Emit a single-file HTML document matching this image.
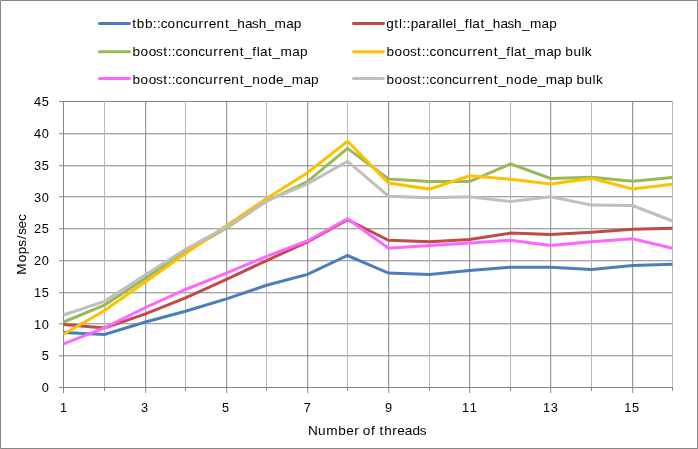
<!DOCTYPE html>
<html><head><meta charset="utf-8"><title>Chart</title>
<style>
html,body{margin:0;padding:0;background:#fff;}
svg{display:block;}
text{font-family:"Liberation Sans",sans-serif;font-size:13px;fill:#000;}
</style></head><body>
<svg width="698" height="449" viewBox="0 0 698 449">
<rect x="0" y="0" width="698" height="449" fill="#fff"/>
<rect x="0.5" y="0.5" width="697" height="448" fill="none" stroke="#868686" stroke-width="1"/>
<rect x="0" y="0" width="1" height="1" fill="#ababab"/><rect x="697" y="0" width="1" height="1" fill="#ababab"/><rect x="0" y="448" width="1" height="1" fill="#959595"/><rect x="697" y="448" width="1" height="1" fill="#959595"/>
<g stroke-width="1" fill="none">
<line x1="59" y1="387.5" x2="673" y2="387.5" stroke="#868686"/>
<line x1="59" y1="355.78" x2="673" y2="355.78" stroke="#868686"/>
<line x1="59" y1="323.78" x2="673" y2="323.78" stroke="#868686"/>
<line x1="59" y1="292.78" x2="673" y2="292.78" stroke="#868686"/>
<line x1="59" y1="260.78" x2="673" y2="260.78" stroke="#868686"/>
<line x1="59" y1="228.78" x2="673" y2="228.78" stroke="#868686"/>
<line x1="59" y1="196.78" x2="673" y2="196.78" stroke="#868686"/>
<line x1="59" y1="165.78" x2="673" y2="165.78" stroke="#868686"/>
<line x1="59" y1="133.78" x2="673" y2="133.78" stroke="#868686"/>
<line x1="59" y1="101.5" x2="673" y2="101.5" stroke="#868686"/>
<line x1="63.5" y1="101" x2="63.5" y2="393" stroke="#868686"/>
<line x1="104.5" y1="101" x2="104.5" y2="387" stroke="#b8b8b8"/>
<line x1="104.5" y1="387" x2="104.5" y2="391" stroke="#868686"/>
<line x1="145.7" y1="101" x2="145.7" y2="393" stroke="#868686"/>
<line x1="185.5" y1="101" x2="185.5" y2="387" stroke="#b8b8b8"/>
<line x1="185.5" y1="387" x2="185.5" y2="391" stroke="#868686"/>
<line x1="226.7" y1="101" x2="226.7" y2="393" stroke="#868686"/>
<line x1="266.5" y1="101" x2="266.5" y2="387" stroke="#b8b8b8"/>
<line x1="266.5" y1="387" x2="266.5" y2="391" stroke="#868686"/>
<line x1="307.7" y1="101" x2="307.7" y2="393" stroke="#868686"/>
<line x1="347.5" y1="101" x2="347.5" y2="387" stroke="#b8b8b8"/>
<line x1="347.5" y1="387" x2="347.5" y2="391" stroke="#868686"/>
<line x1="388.7" y1="101" x2="388.7" y2="393" stroke="#868686"/>
<line x1="429.5" y1="101" x2="429.5" y2="387" stroke="#b8b8b8"/>
<line x1="429.5" y1="387" x2="429.5" y2="391" stroke="#868686"/>
<line x1="469.7" y1="101" x2="469.7" y2="393" stroke="#868686"/>
<line x1="510.5" y1="101" x2="510.5" y2="387" stroke="#b8b8b8"/>
<line x1="510.5" y1="387" x2="510.5" y2="391" stroke="#868686"/>
<line x1="550.7" y1="101" x2="550.7" y2="393" stroke="#868686"/>
<line x1="591.5" y1="101" x2="591.5" y2="387" stroke="#b8b8b8"/>
<line x1="591.5" y1="387" x2="591.5" y2="391" stroke="#868686"/>
<line x1="632.7" y1="101" x2="632.7" y2="393" stroke="#868686"/>
<line x1="672.5" y1="101" x2="672.5" y2="387" stroke="#b8b8b8"/>
<line x1="672.5" y1="387" x2="672.5" y2="391" stroke="#868686"/>
</g>
<g fill="none" stroke-linejoin="miter" stroke-miterlimit="10" stroke-linecap="butt">
<polyline points="63.5,332.6 104.5,334.4 145.5,322.0 185.5,311.2 226.5,298.9 266.5,285.3 307.5,274.4 347.5,255.5 388.5,273.1 429.5,274.45 469.5,270.5 510.5,267.3 550.5,267.3 591.5,269.6 632.5,265.5 672.5,264.3" stroke="#4a7ebb" stroke-width="3.0"/>
<polyline points="63.5,324.6 104.5,328.1 145.5,313.8 185.5,297.9 226.5,279.3 266.5,260.6 307.5,241.8 347.5,219.6 388.5,240.3 429.5,241.7 469.5,239.4 510.5,233.1 550.5,234.4 591.5,232.25 632.5,229.2 672.5,228.3" stroke="#be4b48" stroke-width="3.0"/>
<polyline points="63.5,322.0 104.5,305.1 145.5,278.3 185.5,251.4 226.5,227.9 266.5,201.2 307.5,181.6 347.5,148.3 388.5,178.96 429.5,181.6 469.5,181.6 510.5,163.8 550.5,178.4 591.5,177.2 632.5,181.3 672.5,177.4" stroke="#98b954" stroke-width="3.0"/>
<polyline points="63.5,334.2 104.5,310.6 145.5,281.8 185.5,253.5 226.5,225.6 266.5,198.5 307.5,172.7 347.5,141.3 388.5,183.05 429.5,189.1 469.5,175.75 510.5,179.3 550.5,183.9 591.5,178.4 632.5,188.96 672.5,184.15" stroke="#ffc000" stroke-width="3.0"/>
<polyline points="63.5,343.8 104.5,327.9 145.5,307.5 185.5,289.5 226.5,273.07 266.5,256.3 307.5,241.0 347.5,218.7 388.5,248.2 429.5,245.6 469.5,242.9 510.5,240.3 550.5,245.6 591.5,241.7 632.5,238.8 672.5,248.3" stroke="#ff66ff" stroke-width="3.0"/>
<polyline points="63.5,315.0 104.5,301.3 145.5,274.7 185.5,249.3 226.5,227.0 266.5,201.2 307.5,183.9 347.5,161.2 388.5,196.2 429.5,197.65 469.5,196.76 510.5,201.5 550.5,196.76 591.5,205.1 632.5,205.5 672.5,221.0" stroke="#bfbfbf" stroke-width="3.0"/>
</g>
<text x="41.86" y="391.9" style="font-size:12.8px">0</text>
<text x="41.86" y="359.9" style="font-size:12.8px">5</text>
<text x="34.11 41.86" y="328.9" style="font-size:12.8px">10</text>
<text x="34.11 41.86" y="296.9" style="font-size:12.8px">15</text>
<text x="34.11 41.86" y="264.9" style="font-size:12.8px">20</text>
<text x="34.11 41.86" y="232.9" style="font-size:12.8px">25</text>
<text x="34.11 41.86" y="201.9" style="font-size:12.8px">30</text>
<text x="34.11 41.86" y="170.1" style="font-size:12.8px">35</text>
<text x="34.11 41.86" y="137.9" style="font-size:12.8px">40</text>
<text x="34.11 41.86" y="105.9" style="font-size:12.8px">45</text>
<text x="59.94" y="411.6" style="font-size:12.8px">1</text>
<text x="140.94" y="411.6" style="font-size:12.8px">3</text>
<text x="221.94" y="411.6" style="font-size:12.8px">5</text>
<text x="303.84" y="411.6" style="font-size:12.8px">7</text>
<text x="384.94" y="411.6" style="font-size:12.8px">9</text>
<text x="462.06 469.82" y="411.6" style="font-size:12.8px">11</text>
<text x="543.06 550.82" y="411.6" style="font-size:12.8px">13</text>
<text x="624.26 632.02" y="411.6" style="font-size:12.8px">15</text>
<text x="308.03 318.11 326.36 338.37 346.20 354.19 358.96 362.83 371.09 375.16 379.45 384.14 392.34 397.30 404.77 412.45 419.85" y="434.5" style="font-size:13.6px">Number of threads</text>
<text x="0.88 13.33 21.39 28.78 36.24 40.67 47.09 54.51" y="0" style="font-size:13.6px" transform="translate(26.3,275.5) rotate(-90)">Mops/sec</text>
<line x1="99.5" y1="23.5" x2="129.4" y2="23.5" stroke="#4a7ebb" stroke-width="3" stroke-linecap="round"/>
<text x="132.17 136.86 144.90 152.86 156.95 160.72 167.61 175.67 183.30 190.17 198.38 203.71 208.67 216.49 224.97 229.45 237.28 244.96 252.00 258.63 266.46 274.50 286.15 293.84" y="27.8" style="font-size:13.6px">tbb::concurrent_hash_map</text>
<line x1="99.5" y1="51.8" x2="129.4" y2="51.8" stroke="#98b954" stroke-width="3" stroke-linecap="round"/>
<text x="132.54 140.59 148.66 156.07 163.13 167.74 171.84 175.61 182.49 190.55 198.18 205.06 213.26 218.59 223.55 231.37 239.85 244.33 252.37 256.83 259.98 268.10 272.58 280.62 292.28 299.96" y="55.8" style="font-size:13.6px">boost::concurrent_flat_map</text>
<line x1="99.5" y1="78.5" x2="129.4" y2="78.5" stroke="#ff66ff" stroke-width="3" stroke-linecap="round"/>
<text x="132.54 140.59 148.66 156.07 163.13 167.74 171.84 175.61 182.49 190.55 198.18 205.06 213.26 218.59 223.55 231.37 239.85 244.33 252.16 260.21 268.27 276.09 283.71 291.75 303.40 311.09" y="83.8" style="font-size:13.6px">boost::concurrent_node_map</text>
<line x1="353.5" y1="23.5" x2="383.4" y2="23.5" stroke="#be4b48" stroke-width="3" stroke-linecap="round"/>
<text x="386.22 394.27 398.97 402.40 406.49 410.66 418.35 426.20 431.01 438.70 442.21 445.50 453.34 456.63 464.67 469.14 472.29 480.40 484.88 492.71 500.40 507.44 514.07 521.89 529.93 541.59 549.27" y="27.8" style="font-size:13.6px">gtl::parallel_flat_hash_map</text>
<line x1="353.5" y1="51.8" x2="383.4" y2="51.8" stroke="#ffc000" stroke-width="3" stroke-linecap="round"/>
<text x="386.44 394.49 402.56 409.97 417.03 421.64 425.74 429.51 436.39 444.45 452.08 458.96 467.16 472.49 477.45 485.27 493.75 498.23 506.27 510.73 513.88 522.00 526.48 534.52 546.18 553.86 561.50 565.36 573.40 581.45 584.79" y="55.8" style="font-size:13.6px">boost::concurrent_flat_map bulk</text>
<line x1="353.5" y1="78.5" x2="383.4" y2="78.5" stroke="#bfbfbf" stroke-width="3" stroke-linecap="round"/>
<text x="386.44 394.49 402.56 409.97 417.03 421.64 425.74 429.51 436.39 444.45 452.08 458.96 467.16 472.49 477.45 485.27 493.75 498.23 506.06 514.11 522.17 529.99 537.61 545.65 557.30 564.99 572.63 576.48 584.52 592.57 595.91" y="83.8" style="font-size:13.6px">boost::concurrent_node_map bulk</text>
</svg>
</body></html>
